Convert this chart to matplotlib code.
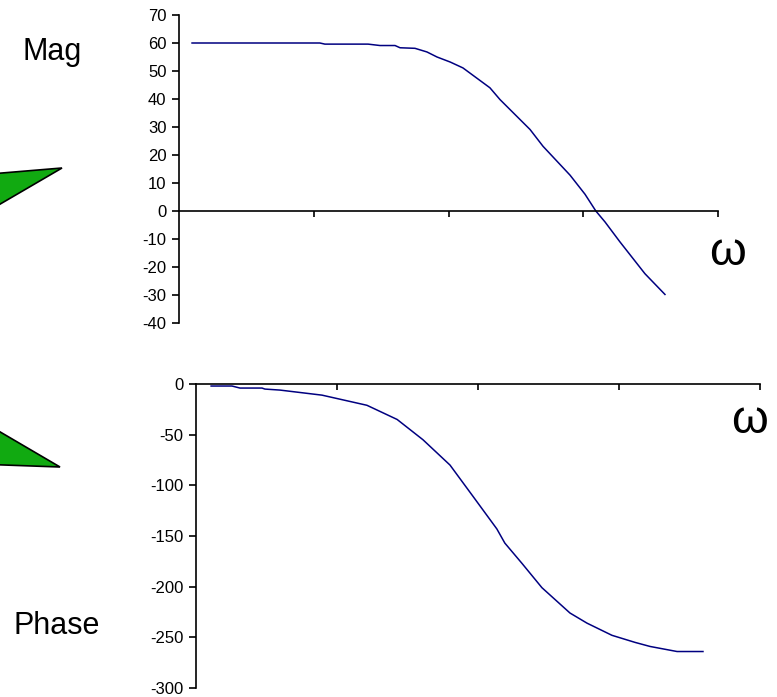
import matplotlib
matplotlib.use("Agg")
import matplotlib.pyplot as plt
from matplotlib.patches import Polygon
import numpy as np

plt.rcParams['font.family'] = ['Liberation Sans', 'DejaVu Sans']
plt.rcParams['axes.unicode_minus'] = False

# magnitude (dB) vs omega
mag_w = [0.125, 1.11, 1.21, 2.53, 3.10, 4.01, 4.37, 5.64, 6.92, 8.22, 10.3, 12.8,
         20.3, 24.1, 40.3, 50.3, 79.8, 103, 124, 145, 187, 287, 404]
mag_db = [60, 60, 59.6, 59.6, 59.1, 59.1, 58.3, 58.1, 56.8, 55.0, 53.2, 51.1,
          44.0, 39.8, 29.1, 23.1, 12.8, 6.0, 0, -3.9, -11.0, -22.4, -29.8]

# phase (deg) vs omega
ph_w = [0.128, 0.180, 0.205, 0.294, 0.308, 0.394, 0.783, 1.63, 2.67, 4.07, 6.33,
        9.23, 13.6, 15.5, 20.5, 28.4, 44.9, 59.3, 89.1, 130, 166, 258, 394]
ph_deg = [-2, -2, -4, -4, -5, -6, -11, -21, -35, -55, -80,
          -111, -143, -157, -177, -201, -226, -236, -248, -255, -259, -264, -264]

mag_ticks = list(range(-40, 71, 10))
ph_ticks = list(range(-300, 1, 50))

W, H = 777, 697
fig = plt.figure(figsize=(W / 100, H / 100), dpi=100)

def px_axes(x0, x1, ytop, ybot):
    return fig.add_axes([x0 / W, 1 - ybot / H, (x1 - x0) / W, (ybot - ytop) / H])

line_col = '#000080'

ax1 = px_axes(179, 718, 15, 323)
ax1.plot(mag_w, mag_db, color=line_col, lw=1.1)
ax1.set_xscale('log')
ax1.set_xlim(0.1, 1000)
ax1.set_ylim(-40, 70)
ax1.set_yticks(mag_ticks)

ax2 = px_axes(196, 760, 384, 688)
ax2.plot(ph_w, ph_deg, color=line_col, lw=1.1)
ax2.set_xscale('log')
ax2.set_xlim(0.1, 1000)
ax2.set_ylim(-300, 0)
ax2.set_yticks(ph_ticks)

for ax in (ax1, ax2):
    ax.spines['top'].set_visible(False)
    ax.spines['right'].set_visible(False)
    ax.spines['bottom'].set_position(('data', 0))
    ax.spines['left'].set_linewidth(1.2)
    ax.spines['bottom'].set_linewidth(1.2)
    ax.set_xticks([1, 10, 100, 1000])
    ax.xaxis.set_minor_locator(matplotlib.ticker.NullLocator())
    ax.set_xticklabels([])
    ax.tick_params(axis='x', direction='out', length=4, width=1.2)
    ax.tick_params(axis='y', direction='out', length=5, width=1.2,
                   labelsize=12, pad=4)
    ax.patch.set_visible(False)

# titles and omega labels
fig.text(52 / W, 1 - 52 / H, 'Mag', fontsize=22, ha='center', va='center')
fig.text(57 / W, 1 - 626 / H, 'Phase', fontsize=22, ha='center', va='center')
fig.text(728 / W, 1 - 253 / H, 'ω', fontsize=34, ha='center', va='center')
fig.text(750 / W, 1 - 421 / H, 'ω', fontsize=34, ha='center', va='center')

# green arrow tips on the left edge
green = '#11aa11'
tri1 = [(-10, 174), (62, 168), (-10, 210)]
tri2 = [(-10, 426), (60, 467), (-10, 464.5)]
for tri in (tri1, tri2):
    pts = [(x / W, 1 - y / H) for x, y in tri]
    fig.patches.append(Polygon(pts, closed=True, transform=fig.transFigure,
                               facecolor=green, edgecolor='black', lw=1.2))

fig.savefig('out.png', dpi=100)
